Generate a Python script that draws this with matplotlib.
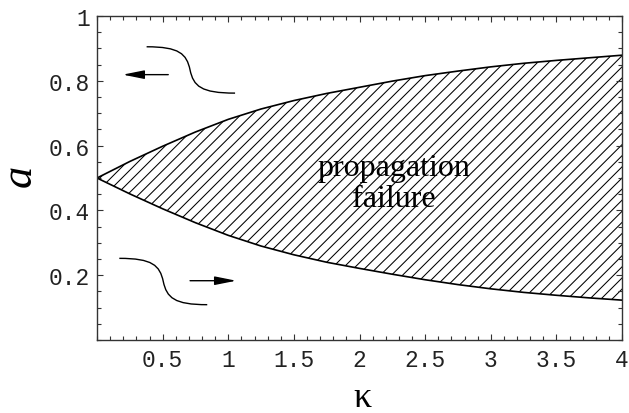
import numpy as np
import matplotlib
matplotlib.use("Agg")
import matplotlib.pyplot as plt
from matplotlib.path import Path
from matplotlib.patches import PathPatch
from matplotlib.ticker import MultipleLocator, FixedLocator

# ---- data ----
kappa = [0.0, 0.25, 0.5, 0.75, 1.0, 1.25, 1.5, 1.75, 2.0, 2.25, 2.5, 2.75, 3.0, 3.25, 3.5, 3.75, 4.0]
a_upper = [0.5, 0.551, 0.598, 0.642, 0.681, 0.713, 0.739, 0.761, 0.780, 0.799, 0.816, 0.830, 0.843, 0.854, 0.863, 0.871, 0.879]
a_lower = [0.5, 0.451, 0.405, 0.362, 0.323, 0.290, 0.263, 0.240, 0.221, 0.203, 0.186, 0.171, 0.158, 0.147, 0.138, 0.130, 0.123]

x_ticks = [0.5, 1, 1.5, 2, 2.5, 3, 3.5, 4]
x_ticklabels = ["0.5", "1", "1.5", "2", "2.5", "3", "3.5", "4"]
y_ticks = [0.2, 0.4, 0.6, 0.8, 1.0]
y_ticklabels = ["0.2", "0.4", "0.6", "0.8", "1"]

region_label = "propagation\nfailure"
region_label_pos = (2.26, 0.485)

# decorative front sketches: (x_start, x_mid, x_end, y_top, y_bottom)
sketch_upper = (0.378, 0.709, 1.052, 0.905, 0.762)
sketch_lower = (0.170, 0.505, 0.840, 0.252, 0.109)
# arrows: (tail, head)
arrow_upper = ((0.543, 0.819), (0.196, 0.819))
arrow_lower = ((0.709, 0.183), (1.061, 0.183))

plt.rcParams['hatch.linewidth'] = 0.75

fig = plt.figure(figsize=(6.29, 4.14), dpi=100)
ax = fig.add_axes([97/629, 1-341/414, (622-97)/629, (341-17)/414])

ax.fill_between(kappa, a_lower, a_upper, facecolor='white', edgecolor='black',
                hatch='///', linewidth=0)
ax.plot(kappa, a_upper, color='black', lw=1.2)
ax.plot(kappa, a_lower, color='black', lw=1.2)


def s_curve(ax, spec):
    x0, xm, x1, yt, yb = spec
    hw = xm - x0
    h = yt - yb
    ym = 0.5 * (yt + yb)
    verts = [(x0, yt),
             (xm - 0.25 * hw, yt), (xm - 0.08 * hw, ym + 0.35 * h), (xm, ym),
             (xm + 0.08 * hw, ym - 0.35 * h), (xm + 0.25 * hw, yb), (x1, yb)]
    codes = [Path.MOVETO] + [Path.CURVE4] * 6
    ax.add_patch(PathPatch(Path(verts, codes), facecolor='none', edgecolor='black', lw=1.0))


s_curve(ax, sketch_upper)
s_curve(ax, sketch_lower)
for tail, head in (arrow_upper, arrow_lower):
    ax.annotate('', xy=head, xytext=tail,
                arrowprops=dict(arrowstyle='-|>,head_length=1.0,head_width=0.2',
                                color='black', lw=1.0, mutation_scale=13,
                                shrinkA=0, shrinkB=0))

ax.text(region_label_pos[0], region_label_pos[1], region_label, ha='center', va='center',
        fontsize=23, family='Liberation Serif', linespacing=1.1)

ax.set_xlim(0, 4)
ax.set_ylim(0, 1)
ax.xaxis.set_major_locator(FixedLocator(x_ticks))
ax.set_xticklabels(x_ticklabels)
ax.yaxis.set_major_locator(FixedLocator(y_ticks))
ax.set_yticklabels(y_ticklabels)
ax.xaxis.set_minor_locator(MultipleLocator(0.1))
ax.yaxis.set_minor_locator(MultipleLocator(0.05))
ax.tick_params(which='both', direction='in', top=True, right=True, color='#333333', width=0.8)
ax.tick_params(which='major', length=4.5)
ax.tick_params(which='minor', length=3)
ax.tick_params(axis='x', which='both', labeltop=False, pad=6)
ax.tick_params(axis='y', which='both', labelright=False, pad=5)
for lab in ax.get_xticklabels() + ax.get_yticklabels():
    lab.set_family('Liberation Mono')
    lab.set_fontsize(16.5)
    lab.set_color('#222222')
for s in ax.spines.values():
    s.set_linewidth(1.0)
    s.set_color('#333333')

fig.text(20/629, 1-176/414, 'a', rotation=90, ha='center', va='center',
         fontsize=32, family='Liberation Serif', style='italic')
fig.text(362/629, 1-407/414, 'κ', ha='center', va='baseline',
         fontsize=26, family='Liberation Serif')

fig.savefig('out.png', dpi=100)
